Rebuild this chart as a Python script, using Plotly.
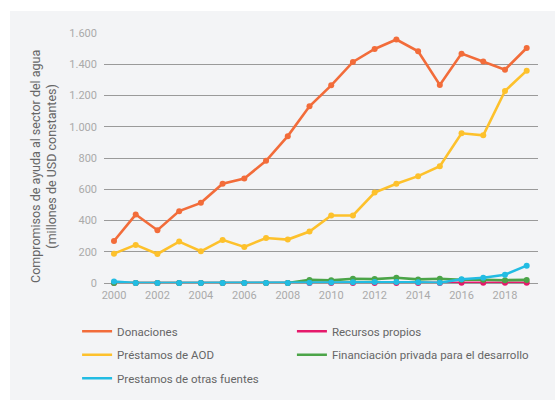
import plotly.graph_objects as go

years = list(range(2000, 2020))

donaciones = [269, 438, 338, 460, 513, 635, 669, 782, 940, 1131,
              1265, 1415, 1498, 1558, 1483, 1267, 1468, 1417, 1365, 1504]
prestamos_aod = [188, 244, 186, 265, 203, 276, 231, 288, 278, 329,
                 432, 432, 579, 635, 684, 748, 958, 945, 1229, 1359]
recursos_propios = [0, 0, 0, 0, 0, 0, 0, 0, 0, 0,
                    0, 0, 0, 0, 0, 0, 1, 2, 1, 1]
financiacion_privada = [0, 0, 0, 0, 0, 0, 0, 0, 0, 20,
                        17, 27, 25, 34, 23, 27, 21, 21, 18, 20]
prestamos_otras = [10, 0, 0, 0, 0, 0, 0, 0, 0, 2,
                   3, 5, 6, 7, 5, 2, 24, 34, 53, 111]

# name, values, colour, legend column
series = [
    ("Donaciones", donaciones, "#F26C3A", "legend"),
    ("Recursos propios", recursos_propios, "#E5196B", "legend2"),
    ("Préstamos de AOD", prestamos_aod, "#FDC12C", "legend"),
    ("Financiación privada para el desarrollo", financiacion_privada, "#4BA448", "legend2"),
    ("Prestamos de otras fuentes", prestamos_otras, "#22BCE3", "legend"),
]

# draw order: small series first, main series on top
draw_order = ["Recursos propios", "Financiación privada para el desarrollo",
              "Prestamos de otras fuentes", "Préstamos de AOD", "Donaciones"]

fig = go.Figure()
lookup = {s[0]: s for s in series}
for name in draw_order:
    _, vals, col, _ = lookup[name]
    fig.add_trace(go.Scatter(
        x=years, y=vals, mode="lines+markers", name=name,
        line=dict(color=col, width=2.6), marker=dict(color=col, size=6),
        showlegend=False, cliponaxis=False, hoverinfo="x+y+name"))

# legend entries (line only), split over two columns
for name, vals, col, leg in series:
    fig.add_trace(go.Scatter(
        x=[None], y=[None], mode="lines", name=name, legend=leg,
        legendgroup=name, line=dict(color=col, width=2.6), showlegend=True))

panel = "#F3F4F6"
legend_common = dict(
    orientation="v", y=-0.135, yanchor="top", xanchor="left",
    font=dict(size=11.5, color="#666666"), bgcolor="rgba(0,0,0,0)",
    tracegroupgap=4.5, itemwidth=30)

# white frame along the top and left edges of the grey panel
frame = dict(type="rect", xref="paper", yref="paper",
             fillcolor="white", line=dict(width=0), layer="below")

fig.update_layout(
    width=555, height=400,
    margin=dict(l=104, r=17, t=33, b=117, autoexpand=False),
    paper_bgcolor=panel,
    plot_bgcolor="rgba(0,0,0,0)",
    separators=",.",
    font=dict(family="Roboto", color="#666666"),
    showlegend=True,
    legend=dict(x=-0.062, **legend_common),
    legend2=dict(x=0.433, **legend_common),
    xaxis=dict(
        range=[1999.54, 2019.52], tickmode="linear", tick0=2000, dtick=2,
        showgrid=False, zeroline=False, showline=False, ticks="",
        tickfont=dict(size=11, color="#AAAAAA"), ticklabelstandoff=4),
    yaxis=dict(
        range=[0, 1600], tickmode="linear", tick0=0, dtick=200,
        showgrid=True, gridcolor="#9A9A9A", gridwidth=1.4,
        zeroline=True, zerolinecolor="#9A9A9A", zerolinewidth=1.4,
        showline=False, ticks="", tickformat=",d",
        tickfont=dict(size=11, color="#AAAAAA"), ticklabelstandoff=6),
    annotations=[dict(
        text="Compromisos de ayuda al sector del agua<br>(millones de USD constantes)",
        xref="paper", yref="paper", x=-0.1406, y=0.468,
        xanchor="center", yanchor="middle", textangle=-90, showarrow=False,
        font=dict(size=12.5, color="#666666"))],
    shapes=[
        dict(x0=-0.25, x1=1.1, y0=1.088, y1=1.2, **frame),
        dict(x0=-0.25, x1=-0.2166, y0=-0.5, y1=1.2, **frame),
    ],
)

fig.write_html("out.html")
